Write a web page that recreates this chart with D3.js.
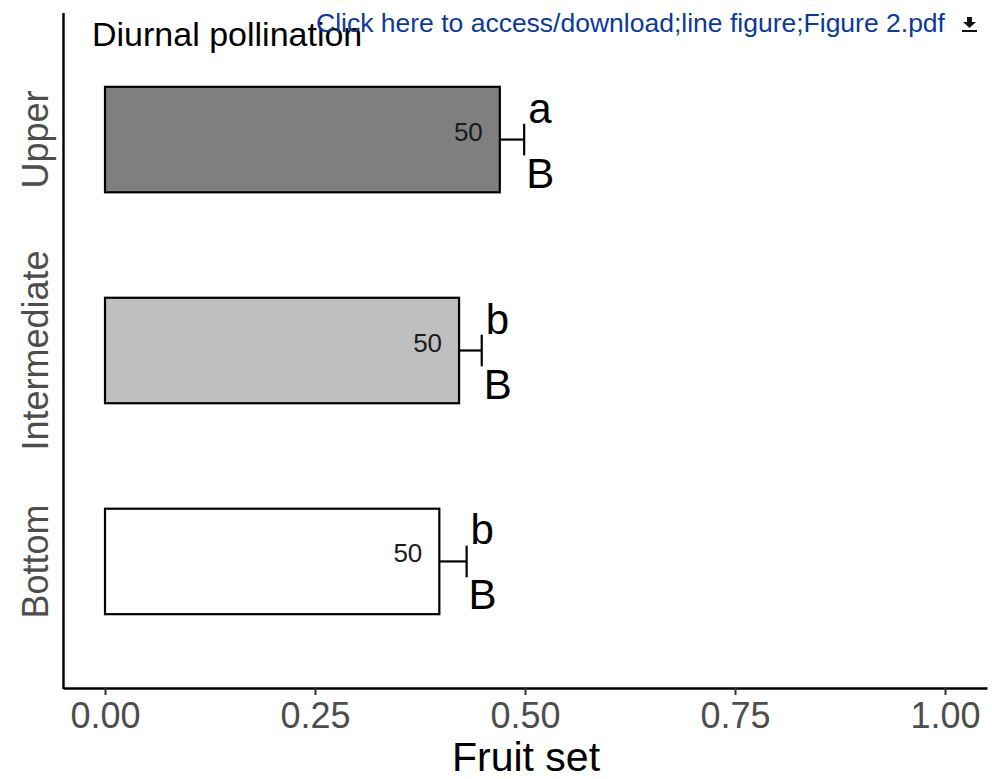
<!DOCTYPE html>
<html>
<head>
<meta charset="utf-8">
<script src="https://cdn.jsdelivr.net/npm/d3@7"></script>
<style>
  html, body { margin: 0; padding: 0; background: #fff; }
  svg { display: block; font-family: "Liberation Sans", Arial, Helvetica, sans-serif; }
</style>
</head>
<body>
<svg id="chart" width="992" height="779"></svg>
<script>
// Fruit set by flower position (diurnal pollination)
const positions = ["Upper", "Intermediate", "Bottom"];
const meanFruitSet = [0.470, 0.4215, 0.398];
const stdError = [0.029, 0.027, 0.0325];
const sampleSize = [50, 50, 50];
const lowerLetters = ["a", "b", "b"];
const upperLetters = ["B", "B", "B"];
const barFills = ["#7f7f7f", "#bfbfbf", "#ffffff"];
const xTicks = [0, 0.25, 0.5, 0.75, 1];

const svg = d3.select("#chart");

const x = d3.scaleLinear().domain([-0.05, 1.05]).range([63, 987]);
const y = d3.scalePoint().domain(positions).range([13, 688]).padding(0.6);
const step = y.step();
const barH = step * 0.5;
const capH = step * 0.15;

const rows = positions.map((p, i) => ({
  pos: p, mean: meanFruitSet[i], se: stdError[i], n: sampleSize[i],
  lo: lowerLetters[i], up: upperLetters[i], fill: barFills[i]
}));

// error bars (upper half, from bar end to mean + SE)
const eb = svg.append("g").attr("stroke", "#000").attr("stroke-width", 2.2);
rows.forEach(d => {
  eb.append("line")
    .attr("x1", x(d.mean)).attr("x2", x(d.mean + d.se))
    .attr("y1", y(d.pos)).attr("y2", y(d.pos));
  eb.append("line")
    .attr("x1", x(d.mean + d.se)).attr("x2", x(d.mean + d.se))
    .attr("y1", y(d.pos) - capH / 2).attr("y2", y(d.pos) + capH / 2);
});

// bars
svg.append("g").selectAll("rect").data(rows).join("rect")
  .attr("x", x(0))
  .attr("y", d => y(d.pos) - barH / 2)
  .attr("width", d => x(d.mean) - x(0))
  .attr("height", barH)
  .attr("fill", d => d.fill)
  .attr("stroke", "#000")
  .attr("stroke-width", 2.2);

// sample sizes inside bars
svg.append("g").selectAll("text").data(rows).join("text")
  .attr("x", d => x(d.mean) - 17)
  .attr("y", d => y(d.pos) + 1)
  .attr("text-anchor", "end")
  .attr("font-size", 26)
  .attr("fill", "#1a1a1a")
  .text(d => d.n);

// significance letters
const lg = svg.append("g").attr("font-size", 42).attr("fill", "#000");
rows.forEach(d => {
  lg.append("text")
    .attr("x", x(d.mean + d.se) + 4)
    .attr("y", y(d.pos) - 17)
    .text(d.lo);
  lg.append("text")
    .attr("x", x(d.mean + d.se) + 2)
    .attr("y", y(d.pos) + 48)
    .text(d.up);
});

// x axis
const xAxis = d3.axisBottom(x).tickValues(xTicks).tickFormat(d3.format(".2f"))
  .tickSizeOuter(0).tickSizeInner(7).tickPadding(8);
const gx = svg.append("g").attr("transform", "translate(0,688)").call(xAxis);
gx.select(".domain").attr("stroke", "#000").attr("stroke-width", 2.4);
gx.selectAll(".tick line").attr("stroke", "#333").attr("stroke-width", 2);
gx.selectAll(".tick text")
  .attr("font-size", 36).attr("fill", "#4d4d4d")
  .attr("font-family", "Liberation Sans, Arial, sans-serif")
  .attr("dy", null).attr("y", 40);

// y axis line
svg.append("line")
  .attr("x1", 63.5).attr("x2", 63.5).attr("y1", 13).attr("y2", 689)
  .attr("stroke", "#000").attr("stroke-width", 2.4);

// y category labels (rotated)
svg.append("g").selectAll("text").data(positions).join("text")
  .attr("transform", d => `translate(48,${y(d)}) rotate(-90)`)
  .attr("text-anchor", "middle")
  .attr("font-size", 36)
  .attr("fill", "#4d4d4d")
  .text(d => d);

// axis title
svg.append("text")
  .attr("x", 526).attr("y", 771)
  .attr("text-anchor", "middle")
  .attr("font-size", 41)
  .attr("fill", "#000")
  .text("Fruit set");

// panel title
svg.append("text")
  .attr("x", 92).attr("y", 46)
  .attr("font-size", 34)
  .attr("fill", "#000")
  .text("Diurnal pollination");

// download link banner
svg.append("text")
  .attr("x", 316).attr("y", 32)
  .attr("font-size", 26.5)
  .attr("fill", "#0b399c")
  .text("Click here to access/download;line figure;Figure 2.pdf");

// download icon
const icon = svg.append("g").attr("transform", "translate(962,17)");
icon.append("path").attr("d", "M5,0 H10 V5 H14 L7.5,11 L1,5 H5 Z").attr("fill", "#111");
icon.append("rect").attr("x", 0).attr("y", 13).attr("width", 15).attr("height", 2).attr("fill", "#111");
</script>
</body>
</html>
